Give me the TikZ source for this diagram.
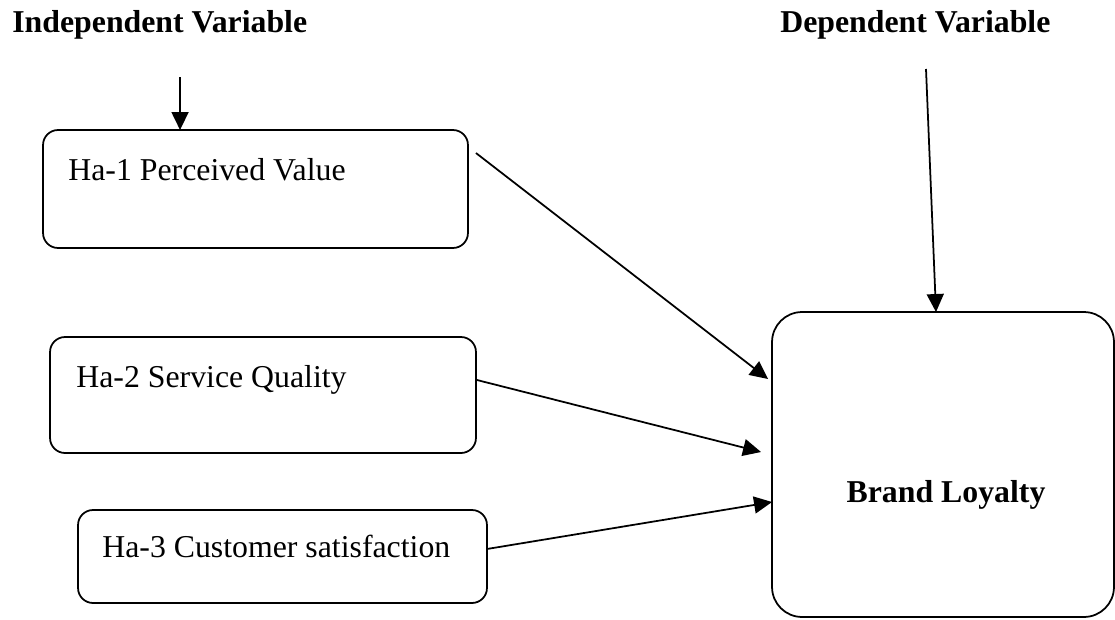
\documentclass[tikz,border=0pt]{standalone}
\usepackage{fontspec}
\setmainfont{Liberation Serif}
\usetikzlibrary{arrows.meta,calc}
\begin{document}
\begin{tikzpicture}[x=0.02cm, y=-0.02cm,
			hyp/.style={draw, line width=1pt, rounded corners=0.3cm, inner sep=0pt, outer sep=0pt},
			txt/.style={font=\fontsize{18.1}{22}\selectfont, inner sep=0pt, anchor=base west},
			head/.style={txt, font=\fontsize{18.1}{22}\selectfont\bfseries},
			link/.style={-{Triangle[length=0.36cm, width=0.34cm]}, line width=1pt}]
  			
  			\useasboundingbox (0,0) rectangle (1115,619);
  			
  			\node[head] (indep) at (12,32) {Independent Variable};
  			\node[head] (dep) at (780,32) {Dependent Variable};
  			
  			\node[hyp, minimum width=8.5cm, minimum height=2.36cm] (value) at (255.5,189) {};
  			\node[hyp, minimum width=8.52cm, minimum height=2.32cm] (quality) at (263,395) {};
  			\node[hyp, minimum width=8.18cm, minimum height=1.86cm] (satis) at (282.5,556.5) {};
  			\node[hyp, rounded corners=0.6cm, minimum width=6.84cm, minimum height=6.1cm] (loyalty) at (943,464.5) {};
  			
  			\node[txt] (valuetxt) at (68,180) {Ha-1 Perceived Value};
  			\node[txt] (qualitytxt) at (76,387) {Ha-2 Service Quality};
  			\node[txt] (satistxt) at (102,557) {Ha-3 Customer satisfaction};
  			\node[head, anchor=base] (loyaltytxt) at (946,502) {Brand Loyalty};
  			
  			\coordinate (indtop) at (180,77);
  			\coordinate (deptop) at (926,69);
  			
  			\draw[link] (indtop) -- ($(value.north west)+(137,0)$);
  			\draw[link] (deptop) -- ($(loyalty.north)+(-7,0)$);
  			
  			\draw[link] ($(value.north east)+(8,23)$) -- ($(loyalty.west)+(-4,-85.5)$);
  			\draw[link] ($(quality.east)+(1,-15)$) -- ($(loyalty.west)+(-11,-12.5)$);
  			\draw[link] ($(satis.east)+(0,-7.5)$) -- ($(loyalty.west)+(0,37.5)$);
  			
\end{tikzpicture}
\end{document}
